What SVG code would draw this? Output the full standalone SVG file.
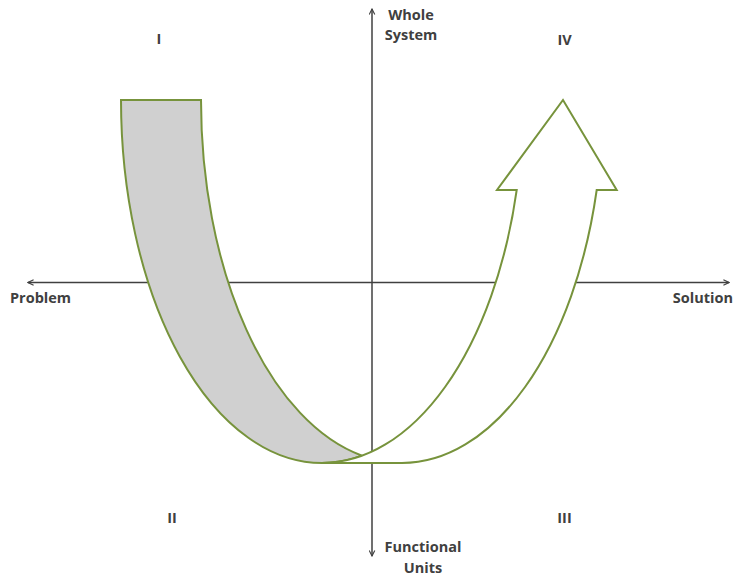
<svg xmlns="http://www.w3.org/2000/svg" width="734" height="577" viewBox="0 0 734 577">
  <style>
    .axis { stroke: #404040; stroke-width: 1.5; fill: none; }
    .band { stroke: #77933C; stroke-width: 2; stroke-linejoin: miter; }
    .lbl { font-family: "Open Sans", "Liberation Sans", sans-serif; font-weight: 700; font-size: 14.5px; fill: #404040; }
  </style>
  <defs>
    <marker id="open" viewBox="0 0 10 10" refX="9" refY="5" markerWidth="7" markerHeight="7" markerUnits="userSpaceOnUse" orient="auto">
      <path d="M1,1 L9,5 L1,9" fill="none" stroke="#404040" stroke-width="1.6"/>
    </marker>
  </defs>
  <rect width="734" height="577" fill="#ffffff"/>

  <g id="connectors">
    <line class="axis" x1="372" y1="282.5" x2="372" y2="9" marker-end="url(#open)"/>
    <line class="axis" x1="372" y1="282.5" x2="372" y2="556" marker-end="url(#open)"/>
    <line class="axis" x1="372" y1="282.5" x2="28" y2="282.5" marker-end="url(#open)"/>
    <line class="axis" x1="372" y1="282.5" x2="729" y2="282.5" marker-end="url(#open)"/>
  </g>

  <g id="curved-arrow">
    <path id="back-band" class="band" fill="#d0d0d0"
      d="M121,100 A201,363 0 0 0 322,463 A201,363 0 0 0 362,455.7 A201,363 0 0 1 201,100 Z"/>
    <path id="front-band" class="band" fill="#ffffff"
      d="M322,463 A201,363 0 0 0 516.7,190 L497,190 L563,100 L616.7,190 L596.7,190 A201,363 0 0 1 402,463 Z"/>
  </g>

  <g id="label-whole-system">
    <text class="lbl" x="411" y="20" text-anchor="middle">Whole</text>
    <text class="lbl" x="411" y="40" text-anchor="middle">System</text>
  </g>
  <g id="label-functional-units">
    <text class="lbl" x="423" y="552" text-anchor="middle">Functional</text>
    <text class="lbl" x="423" y="573" text-anchor="middle">Units</text>
  </g>
  <g id="label-problem">
    <text class="lbl" x="10" y="303">Problem</text>
  </g>
  <g id="label-solution">
    <text class="lbl" x="733" y="303" text-anchor="end">Solution</text>
  </g>
  <g id="quadrant-I"><text class="lbl" x="159" y="44" text-anchor="middle">I</text></g>
  <g id="quadrant-IV"><text class="lbl" x="564.5" y="45" text-anchor="middle">IV</text></g>
  <g id="quadrant-II"><text class="lbl" x="172" y="523" text-anchor="middle">II</text></g>
  <g id="quadrant-III"><text class="lbl" x="564.5" y="523" text-anchor="middle">III</text></g>
</svg>
